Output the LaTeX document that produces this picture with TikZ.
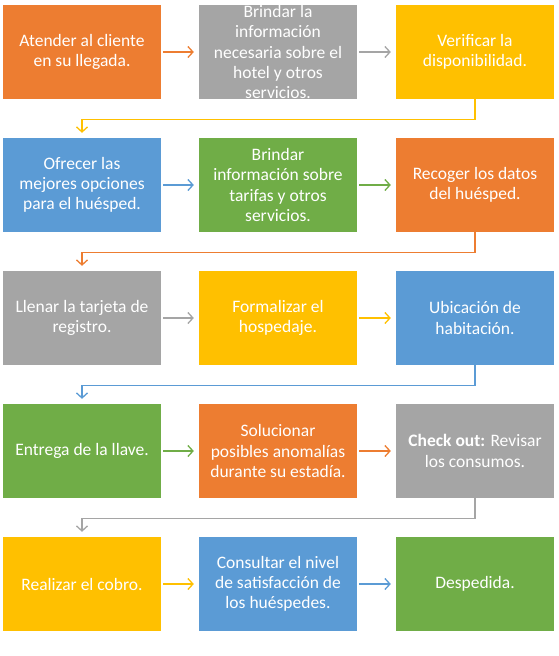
\documentclass[tikz,border=0pt]{standalone}
\usepackage{fontspec}
\setmainfont{Carlito}
\usetikzlibrary{arrows.meta}
\definecolor{cOr}{HTML}{ED7D31}
\definecolor{cGr}{HTML}{A5A5A5}
\definecolor{cYe}{HTML}{FFC000}
\definecolor{cBl}{HTML}{5B9BD5}
\definecolor{cGn}{HTML}{70AD47}
\begin{document}
\begin{tikzpicture}[x=1pt,y=-1pt,
  box/.style={fill=#1, draw=none, minimum width=158pt, minimum height=94pt, inner sep=0pt,
    text=white, align=center, font=\fontsize{17.5}{20.2}\selectfont},
  arr/.style={draw=#1, line width=1.3pt, -{Straight Barb[length=5pt,width=11pt,line width=1.3pt]}}
]
\useasboundingbox (0,0) rectangle (558,656);
% row 1
\node[box=cOr] (a1) at (82,52) {Atender al cliente\\en su llegada.};
\node[box=cGr] (a2) at (278,52) {Brindar la\\información\\necesaria sobre el\\hotel y otros\\servicios.};
\node[box=cYe] (a3) at (475,52) {Verificar la\\disponibilidad.};
% row 2
\node[box=cBl] (b1) at (82,185) {Ofrecer las\\mejores opciones\\para el huésped.};
\node[box=cGn] (b2) at (278,185) {Brindar\\información sobre\\tarifas y otros\\servicios.};
\node[box=cOr] (b3) at (475,185) {Recoger los datos\\del huésped.};
% row 3
\node[box=cGr] (c1) at (82,318) {Llenar la tarjeta de\\registro.};
\node[box=cYe] (c2) at (278,318) {Formalizar el\\hospedaje.};
\node[box=cBl] (c3) at (475,318) {Ubicación de\\habitación.};
% row 4
\node[box=cGn] (d1) at (82,451) {Entrega de la llave.};
\node[box=cOr] (d2) at (278,451) {Solucionar\\posibles anomalías\\durante su estadía.};
\node[box=cGr] (d3) at (475,451) {\textbf{Check out:} Revisar\\los consumos.};
% row 5
\node[box=cYe] (e1) at (82,584) {Realizar el cobro.};
\node[box=cBl] (e2) at (278,584) {Consultar el nivel\\de satisfacción de\\los huéspedes.};
\node[box=cGn] (e3) at (475,584) {Despedida.};
% horizontal arrows
\draw[arr=cOr] ([xshift=2pt]a1.east) -- ([xshift=-5pt]a2.west);
\draw[arr=cGr] ([xshift=2pt]a2.east) -- ([xshift=-5pt]a3.west);
\draw[arr=cBl] ([xshift=2pt]b1.east) -- ([xshift=-5pt]b2.west);
\draw[arr=cGn] ([xshift=2pt]b2.east) -- ([xshift=-5pt]b3.west);
\draw[arr=cGr] ([xshift=2pt]c1.east) -- ([xshift=-5pt]c2.west);
\draw[arr=cYe] ([xshift=2pt]c2.east) -- ([xshift=-5pt]c3.west);
\draw[arr=cGn] ([xshift=2pt]d1.east) -- ([xshift=-5pt]d2.west);
\draw[arr=cOr] ([xshift=2pt]d2.east) -- ([xshift=-5pt]d3.west);
\draw[arr=cYe] ([xshift=2pt]e1.east) -- ([xshift=-5pt]e2.west);
\draw[arr=cBl] ([xshift=2pt]e2.east) -- ([xshift=-5pt]e3.west);
% row-to-row connectors
\draw[arr=cYe] (a3.south) -- ++(0,20) -| ([yshift=5pt]b1.north);
\draw[arr=cOr] (b3.south) -- ++(0,20) -| ([yshift=5pt]c1.north);
\draw[arr=cBl] (c3.south) -- ++(0,20) -| ([yshift=5pt]d1.north);
\draw[arr=cGr] (d3.south) -- ++(0,20) -| ([yshift=5pt]e1.north);
\end{tikzpicture}
\end{document}
